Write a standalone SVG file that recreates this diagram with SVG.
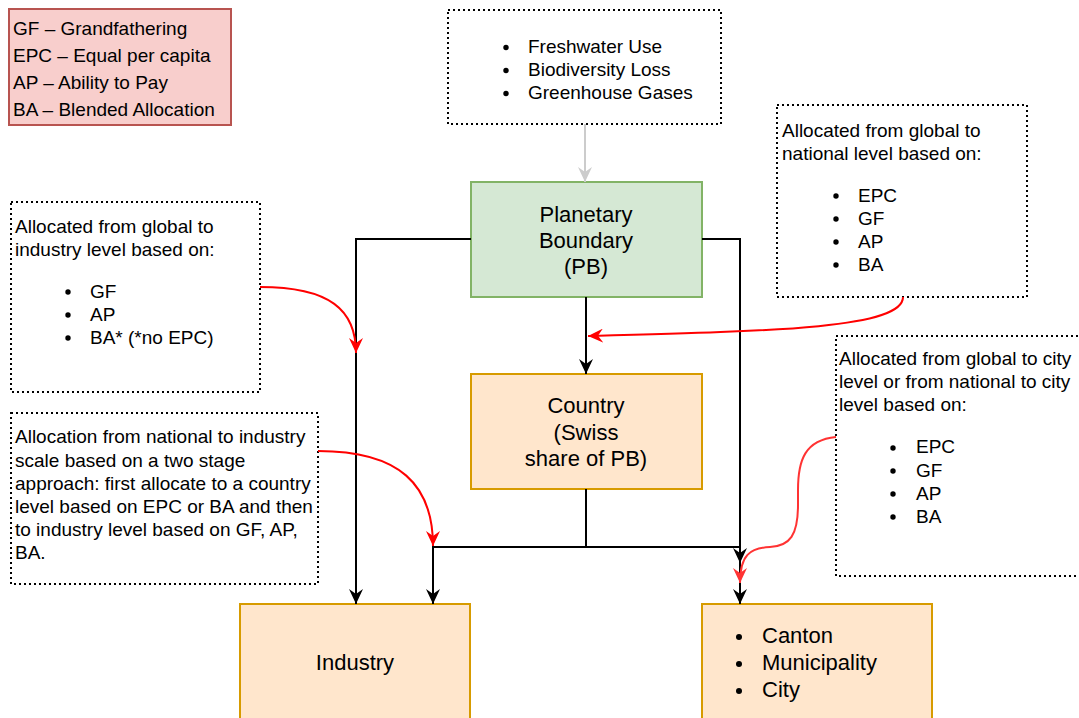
<svg xmlns="http://www.w3.org/2000/svg" width="1079" height="718" viewBox="0 0 1079 718">
<defs>
<style>
text{font-family:"Liberation Sans",Arial,sans-serif;fill:#000}
.t19{font-size:19px}
.t22{font-size:22px}
.mid{text-anchor:middle}
.note{fill:#fff;stroke:#000;stroke-width:2;stroke-dasharray:2 3}
.orange{fill:#ffe6cc;stroke:#d79b00;stroke-width:2}
.green{fill:#d5e8d4;stroke:#82b366;stroke-width:2}
.legend{fill:#f8cecc;stroke:#b85450;stroke-width:2}
.edge{fill:none;stroke:#000;stroke-width:2;marker-end:url(#ab)}
.edgeN{fill:none;stroke:#000;stroke-width:2}
.red{fill:none;stroke:#ff0000;stroke-width:2;marker-end:url(#ar)}
.red2{fill:none;stroke:#ff3333;stroke-width:2;marker-end:url(#ar2)}
.grey{fill:none;stroke:#cccccc;stroke-width:2;marker-end:url(#ag)}
</style>
<marker id="ab" viewBox="0 0 15 14" refX="15" refY="7" markerWidth="15" markerHeight="14" markerUnits="userSpaceOnUse" orient="auto"><path d="M0,0 L15,7 L0,14 L5,7 Z" fill="#000"/></marker>
<marker id="ar" viewBox="0 0 15 14" refX="15" refY="7" markerWidth="15" markerHeight="14" markerUnits="userSpaceOnUse" orient="auto"><path d="M0,0 L15,7 L0,14 L5,7 Z" fill="#ff0000"/></marker>
<marker id="ar2" viewBox="0 0 15 14" refX="15" refY="7" markerWidth="15" markerHeight="14" markerUnits="userSpaceOnUse" orient="auto"><path d="M0,0 L15,7 L0,14 L5,7 Z" fill="#ff3333"/></marker>
<marker id="ag" viewBox="0 0 15 14" refX="15" refY="7" markerWidth="15" markerHeight="14" markerUnits="userSpaceOnUse" orient="auto"><path d="M0,0 L15,7 L0,14 L5,7 Z" fill="#cccccc"/></marker>
</defs>
<rect width="1079" height="718" fill="#fff"/>

<g id="legend">
<rect class="legend" x="9" y="9" width="222" height="116"/>
<text class="t19" x="13" y="35">GF – Grandfathering</text>
<text class="t19" x="13" y="62">EPC – Equal per capita</text>
<text class="t19" x="13" y="89">AP – Ability to Pay</text>
<text class="t19" x="13" y="116">BA – Blended Allocation</text>
</g>

<g id="boundaries">
<rect class="note" x="448" y="10" width="273" height="114"/>
<circle cx="506" cy="47.5" r="2.7"/><circle cx="506" cy="70.5" r="2.7"/><circle cx="506" cy="93.5" r="2.7"/>
<text class="t19" x="528" y="53">Freshwater Use</text>
<text class="t19" x="528" y="76">Biodiversity Loss</text>
<text class="t19" x="528" y="99">Greenhouse Gases</text>
</g>

<g id="note-national">
<rect class="note" x="777" y="105" width="250" height="192"/>
<text class="t19" x="782" y="137">Allocated from global to</text>
<text class="t19" x="782" y="160">national level based on:</text>
<circle cx="836" cy="196" r="2.7"/><circle cx="836" cy="219" r="2.7"/><circle cx="836" cy="242" r="2.7"/><circle cx="836" cy="265" r="2.7"/>
<text class="t19" x="858" y="202">EPC</text>
<text class="t19" x="858" y="225">GF</text>
<text class="t19" x="858" y="248">AP</text>
<text class="t19" x="858" y="271">BA</text>
</g>

<g id="note-industry-global">
<rect class="note" x="11" y="202" width="249" height="190"/>
<text class="t19" x="15" y="233">Allocated from global to</text>
<text class="t19" x="15" y="256">industry level based on:</text>
<circle cx="68" cy="292" r="2.7"/><circle cx="68" cy="315" r="2.7"/><circle cx="68" cy="338" r="2.7"/>
<text class="t19" x="90" y="298">GF</text>
<text class="t19" x="90" y="321">AP</text>
<text class="t19" x="90" y="344">BA* (*no EPC)</text>
</g>

<g id="note-industry-national">
<rect class="note" x="11" y="413" width="307" height="171"/>
<text class="t19" x="15" y="443">Allocation from national to industry</text>
<text class="t19" x="15" y="467">scale based on a two stage</text>
<text class="t19" x="15" y="490">approach: first allocate to a country</text>
<text class="t19" x="15" y="513">level based on EPC or BA and then</text>
<text class="t19" x="15" y="536">to industry level based on GF, AP,</text>
<text class="t19" x="15" y="559">BA.</text>
</g>

<g id="note-city">
<rect class="note" x="836" y="336" width="260" height="240"/>
<text class="t19" x="839" y="365">Allocated from global to city</text>
<text class="t19" x="839" y="388">level or from national to city</text>
<text class="t19" x="839" y="411">level based on:</text>
<circle cx="893" cy="448" r="2.7"/><circle cx="893" cy="471" r="2.7"/><circle cx="893" cy="494" r="2.7"/><circle cx="893" cy="517" r="2.7"/>
<text class="t19" x="916" y="453">EPC</text>
<text class="t19" x="916" y="477">GF</text>
<text class="t19" x="916" y="500">AP</text>
<text class="t19" x="916" y="523">BA</text>
</g>

<g id="pb">
<rect class="green" x="471" y="182" width="231" height="115"/>
<text class="t22 mid" x="586" y="222">Planetary</text>
<text class="t22 mid" x="586" y="248">Boundary</text>
<text class="t22 mid" x="586" y="274">(PB)</text>
</g>

<g id="country">
<rect class="orange" x="471" y="374" width="231" height="115"/>
<text class="t22 mid" x="586" y="413">Country</text>
<text class="t22 mid" x="586" y="440">(Swiss</text>
<text class="t22 mid" x="586" y="466">share of PB)</text>
</g>

<g id="industry">
<rect class="orange" x="240" y="604" width="230" height="130"/>
<text class="t22 mid" x="355" y="670">Industry</text>
</g>

<g id="subnational">
<rect class="orange" x="702" y="604" width="230" height="130"/>
<circle cx="739" cy="637" r="3"/><circle cx="739" cy="664" r="3"/><circle cx="739" cy="691" r="3"/>
<text class="t22" x="762" y="643">Canton</text>
<text class="t22" x="762" y="670">Municipality</text>
<text class="t22" x="762" y="697">City</text>
</g>

<g id="connectors">
<path class="grey" d="M585,124 L585,182"/>
<path class="edge" d="M471,239 L356,239 L356,604"/>
<path class="edge" d="M702,239 L740,239 L740,604"/>
<path class="edge" d="M586,297 L586,374"/>
<path class="edgeN" d="M586,489 L586,547"/>
<path class="edge" d="M586,547 L433,547 L433,604"/>
<path class="edge" d="M586,547 L740,547 L740,563"/>
<path class="red" d="M260,287 C330,287 356,310 356,353"/>
<path class="red" d="M903,297 C903,328 780,331 588,336"/>
<path class="red" d="M318,451 C400,451 433,485 433,546"/>
<path class="red2" d="M836,437 C805,440 798,460 798,490 L798,505 C798,535 790,546 770,547 C750,548 740,555 740,583"/>
</g>
</svg>
